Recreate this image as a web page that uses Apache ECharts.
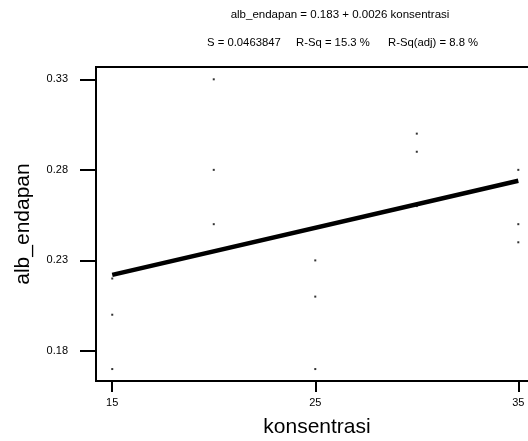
<!DOCTYPE html>
<html>
<head>
<meta charset="utf-8">
<script src="https://cdn.jsdelivr.net/npm/echarts@6/dist/echarts.min.js"></script>
<style>
  html, body { margin: 0; padding: 0; background: #fff; }
  #chart { width: 528px; height: 441px; }
</style>
</head>
<body>
<div id="chart"></div>
<script>
// data
const konsentrasi = [15, 15, 15, 20, 20, 20, 25, 25, 25, 30, 30, 30, 35, 35, 35];
const albEndapan = [0.22, 0.20, 0.17, 0.33, 0.28, 0.25, 0.23, 0.21, 0.17, 0.30, 0.29, 0.26, 0.28, 0.25, 0.24];

// regression line from the header
const intercept = 0.183;
const slope = 0.0026;
const fitX = [15, 35];

const xTicks = [15, 25, 35];
const yTicks = [0.18, 0.23, 0.28, 0.33];

const font = 'Liberation Sans, Arial, sans-serif';

document.addEventListener('DOMContentLoaded', () => {
    const chart = echarts.init(document.getElementById('chart'));

    const points = konsentrasi.map((x, i) => [x, albEndapan[i]]);
    const fitLine = fitX.map(x => [x, intercept + slope * x]);

    const option = {
        animation: false,
        backgroundColor: '#fff',
        textStyle: { fontFamily: font },
        graphic: [
            { type: 'text', x: 340, y: 9, style: { text: 'alb_endapan = 0.183 + 0.0026 konsentrasi', fontSize: 11.5, fontFamily: font, fill: '#000', align: 'center' } },
            { type: 'text', x: 207, y: 37, style: { text: 'S = 0.0463847', fontSize: 11.3, fontFamily: font, fill: '#000' } },
            { type: 'text', x: 296, y: 37, style: { text: 'R-Sq = 15.3 %', fontSize: 11.3, fontFamily: font, fill: '#000' } },
            { type: 'text', x: 388, y: 37, style: { text: 'R-Sq(adj) = 8.8 %', fontSize: 11.3, fontFamily: font, fill: '#000' } }
        ],
        grid: {
            left: 96, top: 67, width: 442, height: 314,
            outerBoundsMode: 'none',
            containLabel: false,
            show: true,
            borderColor: '#000',
            borderWidth: 2,
            backgroundColor: 'transparent'
        },
        xAxis: {
            type: 'value',
            min: 14.2, max: 35.97,
            name: 'konsentrasi',
            nameLocation: 'middle',
            nameGap: 36,
            nameTextStyle: { fontSize: 21, color: '#000', fontFamily: font },
            axisLine: { show: true, onZero: false, lineStyle: { color: '#000', width: 2 } },
            axisTick: { show: true, length: 11, lineStyle: { color: '#000', width: 2 }, customValues: xTicks },
            axisLabel: { fontSize: 11, color: '#000', margin: 16, customValues: xTicks, formatter: v => String(v) },
            splitLine: { show: false }
        },
        yAxis: {
            type: 'value',
            min: 0.1634, max: 0.3368,
            name: 'alb_endapan',
            nameLocation: 'middle',
            nameGap: 62,
            nameTextStyle: { fontSize: 21, color: '#000', fontFamily: font },
            axisLine: { show: true, onZero: false, lineStyle: { color: '#000', width: 2 } },
            axisTick: { show: true, length: 16, lineStyle: { color: '#000', width: 2 }, customValues: yTicks },
            axisLabel: { fontSize: 11, color: '#000', margin: 28, customValues: yTicks, formatter: v => v.toFixed(2) },
            splitLine: { show: false }
        },
        series: [
            {
                type: 'scatter',
                data: points,
                symbol: 'rect',
                symbolSize: 2,
                itemStyle: { color: '#000' }
            },
            {
                type: 'line',
                data: fitLine,
                showSymbol: false,
                lineStyle: { color: '#000', width: 4.5 }
            }
        ]
    };

    chart.setOption(option);
});
</script>
</body>
</html>
